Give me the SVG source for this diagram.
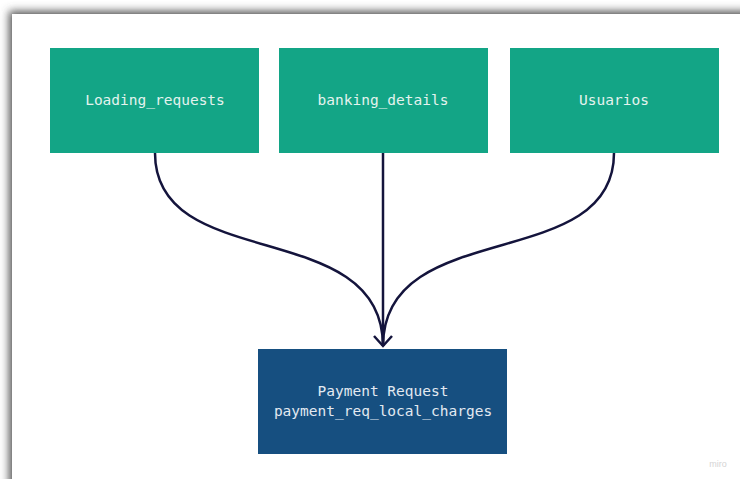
<svg xmlns="http://www.w3.org/2000/svg" width="740" height="479" viewBox="0 0 740 479">
<defs>
<filter id="sh" x="-10%" y="-10%" width="120%" height="120%">
<feGaussianBlur stdDeviation="4"/>
</filter>
<marker id="arr" markerWidth="14" markerHeight="20" refX="11" refY="10" orient="auto" markerUnits="userSpaceOnUse" viewBox="0 0 14 20">
<path d="M1,1 L11,10 L1,19" fill="none" stroke="#14143c" stroke-width="2.5"/>
</marker>
<style>
.t{fill:#13a586}
.b{fill:#164f80}
.lbl{font-family:"DejaVu Sans Mono","Liberation Mono",monospace;font-size:14.5px;fill:#e4f3ee;text-anchor:middle;dominant-baseline:central}
.lb2{fill:#e2e9f1}
.c{fill:none;stroke:#14143c;stroke-width:2.5}
</style>
</defs>
<rect width="740" height="479" fill="#ffffff"/>
<rect x="9" y="11" width="760" height="500" fill="#555" filter="url(#sh)"/>
<rect x="12" y="14" width="760" height="500" fill="#ffffff"/>
<g id="n1"><rect class="t" x="50" y="48" width="209" height="105"/><text class="lbl" x="155" y="100">Loading_requests</text></g>
<g id="n2"><rect class="t" x="279" y="48" width="209" height="105"/><text class="lbl" x="383" y="100">banking_details</text></g>
<g id="n3"><rect class="t" x="510" y="48" width="209" height="105"/><text class="lbl" x="614" y="100">Usuarios</text></g>
<g id="n4"><rect class="b" x="258" y="349" width="249" height="105"/><text class="lbl lb2" x="383" y="391">Payment Request</text><text class="lbl lb2" x="383" y="411">payment_req_local_charges</text></g>
<g id="connectors">
<path class="c" d="M155,153 C155,275 383,215 383,346"/>
<path class="c" d="M383,153 L383,346" marker-end="url(#arr)"/>
<path class="c" d="M614,153 C614,275 383,215 383,346"/>
</g>
<text x="718" y="467" font-family="Liberation Sans, sans-serif" font-size="9" fill="#d4d4d4" text-anchor="middle">miro</text>
</svg>
